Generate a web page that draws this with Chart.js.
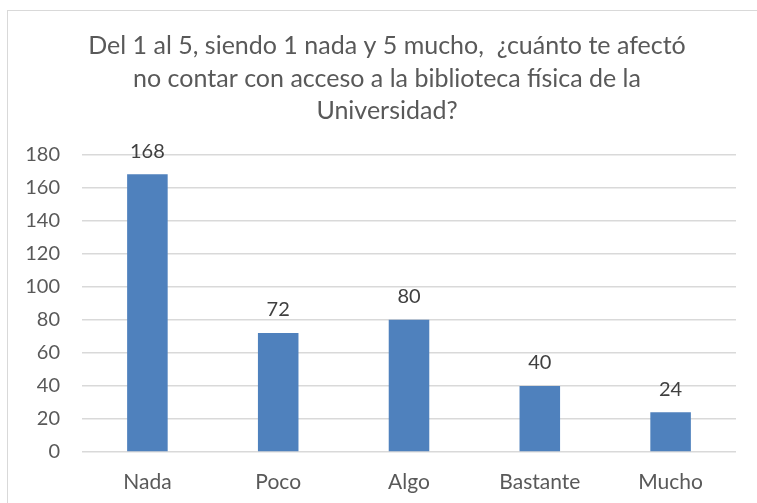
<!DOCTYPE html>
<html>
<head>
<meta charset="utf-8">
<script src="https://cdn.jsdelivr.net/npm/chart.js@4.4.1/dist/chart.umd.min.js"></script>
<style>
    html, body { margin: 0; padding: 0; background: #fff; overflow: hidden; }
    #wrap { position: relative; width: 757px; height: 503px; }
    #frame { position: absolute; left: 7px; top: 10px; width: 780px; height: 520px; border: 1px solid #d9d9d9; }
    canvas { position: absolute; left: 0; top: 0; }
</style>
</head>
<body>
<div id="wrap">
    <div id="frame"></div>
    <canvas id="chart-afecto" width="757" height="503"></canvas>
</div>
<script>
//*** DATA ***//
const titleLines = [
    'Del 1 al 5, siendo 1 nada y 5 mucho,  ¿cuánto te afectó',
    'no contar con acceso a la biblioteca física de la',
    'Universidad?'
];
const categories = ['Nada', 'Poco', 'Algo', 'Bastante', 'Mucho'];
const respuestas = [168, 72, 80, 40, 24];
const yTicks = [0, 20, 40, 60, 80, 100, 120, 140, 160, 180];

const fontFamily = 'Lato, "Open Sans", sans-serif';

//*** PLUGINS ***//
// Value labels above each bar
const barLabels = {
    id: 'barLabels',
    afterDatasetsDraw(chart) {
        const ctx = chart.ctx;
        const meta = chart.getDatasetMeta(0);
        ctx.save();
        ctx.font = '20px ' + fontFamily;
        ctx.fillStyle = '#404040';
        ctx.textAlign = 'center';
        ctx.textBaseline = 'middle';
        meta.data.forEach((bar, i) => {
            ctx.fillText(respuestas[i], bar.x, bar.y - 23);
        });
        ctx.restore();
    }
};

//*** CHART ***//
Chart.defaults.font.family = fontFamily;
Chart.defaults.color = '#595959';

new Chart(document.getElementById('chart-afecto'), {
    type: 'bar',
    data: {
        labels: categories,
        datasets: [{
            data: respuestas,
            backgroundColor: '#4f81bd',
            categoryPercentage: 1,
            barPercentage: 0.31
        }]
    },
    options: {
        responsive: false,
        animation: false,
        layout: { padding: { left: 17, right: 0, top: 12, bottom: 0 } },
        plugins: {
            legend: { display: false },
            tooltip: { enabled: false },
            title: {
                display: true,
                text: titleLines,
                color: '#595959',
                font: { size: 25, weight: 'normal', lineHeight: 1.3 },
                padding: { top: 18, bottom: 27 }
            }
        },
        scales: {
            x: {
                afterFit(scale) { scale.height = 51; },
                grid: { display: false, drawTicks: false },
                border: { display: false },
                ticks: { font: { size: 21 }, padding: 18 }
            },
            y: {
                min: 0,
                max: 180,
                afterFit(scale) { scale.width = 65; },
                afterBuildTicks(scale) { scale.ticks = yTicks.map(v => ({ value: v })); },
                grid: { color: '#d9d9d9', lineWidth: 1.5, drawTicks: false },
                border: { display: false },
                ticks: { font: { size: 20 }, padding: 22 }
            },
            // empty right-hand axis, keeps the plot clear of the right edge
            yRight: {
                position: 'right',
                afterFit(scale) { scale.width = 21; },
                grid: { display: false },
                border: { display: false },
                ticks: { display: false }
            }
        }
    },
    plugins: [barLabels]
});
</script>
</body>
</html>
